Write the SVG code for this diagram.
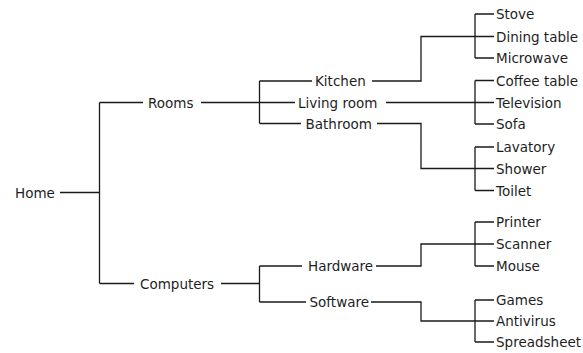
<svg xmlns="http://www.w3.org/2000/svg" width="583" height="353" viewBox="0 0 583 353">
<style>
text{font-family:"DejaVu Sans","Verdana",sans-serif;font-size:13.5px;fill:#1e1e1e}
.c path{fill:none;stroke:#1a1a1a;stroke-width:1.3}
</style>
<rect width="583" height="353" fill="#fff"/>
<g class="c" id="connectors">
<path d="M60 192.5H99.5M99.5 102.5V283.5M99.5 102.5H143M99.5 283.5H134"/>
<path d="M201 102.5H259.5M259.5 81V123.5M259.5 81H312M259.5 102.5H295M259.5 123.5H301"/>
<path d="M221 283.5H259.5M259.5 266V302M259.5 266H302M259.5 302H306"/>
<path d="M372 81H421V36.5H475M475 14V58M475 14H494M475 36.5H494M475 58H494"/>
<path d="M386 102.5H475M475 80.5V124M475 80.5H494M475 102.5H494M475 124H494"/>
<path d="M377 123.5H421V168.5H475M475 147V190.5M475 147H494M475 168.5H494M475 190.5H494"/>
<path d="M376 266H421V244H475M475 222V266M475 222H494M475 244H494M475 266H494"/>
<path d="M371 302H421V321H475M475 300V342M475 300H494M475 321H494M475 342H494"/>
</g>
<g id="n-home"><text x="15" y="197.5">Home</text></g>
<g id="n-rooms"><text x="148" y="107.5">Rooms</text></g>
<g id="n-computers"><text x="140" y="288.5">Computers</text></g>
<g id="n-kitchen"><text x="315" y="86">Kitchen</text></g>
<g id="n-living"><text x="298" y="107.5">Living room</text></g>
<g id="n-bathroom"><text x="305.5" y="128.5">Bathroom</text></g>
<g id="n-hardware"><text x="308" y="271">Hardware</text></g>
<g id="n-software"><text x="309.5" y="307">Software</text></g>
<g id="n-stove"><text x="496" y="19">Stove</text></g>
<g id="n-dining"><text x="496" y="41.5">Dining table</text></g>
<g id="n-microwave"><text x="496" y="63">Microwave</text></g>
<g id="n-coffee"><text x="496" y="85.5">Coffee table</text></g>
<g id="n-tv"><text x="496" y="107.5">Television</text></g>
<g id="n-sofa"><text x="496" y="129">Sofa</text></g>
<g id="n-lavatory"><text x="496" y="152">Lavatory</text></g>
<g id="n-shower"><text x="496" y="173.5">Shower</text></g>
<g id="n-toilet"><text x="496" y="195.5">Toilet</text></g>
<g id="n-printer"><text x="496" y="227">Printer</text></g>
<g id="n-scanner"><text x="496" y="249">Scanner</text></g>
<g id="n-mouse"><text x="496" y="271">Mouse</text></g>
<g id="n-games"><text x="496" y="305">Games</text></g>
<g id="n-antivirus"><text x="496" y="326">Antivirus</text></g>
<g id="n-spreadsheet"><text x="496" y="347">Spreadsheet</text></g>
</svg>
